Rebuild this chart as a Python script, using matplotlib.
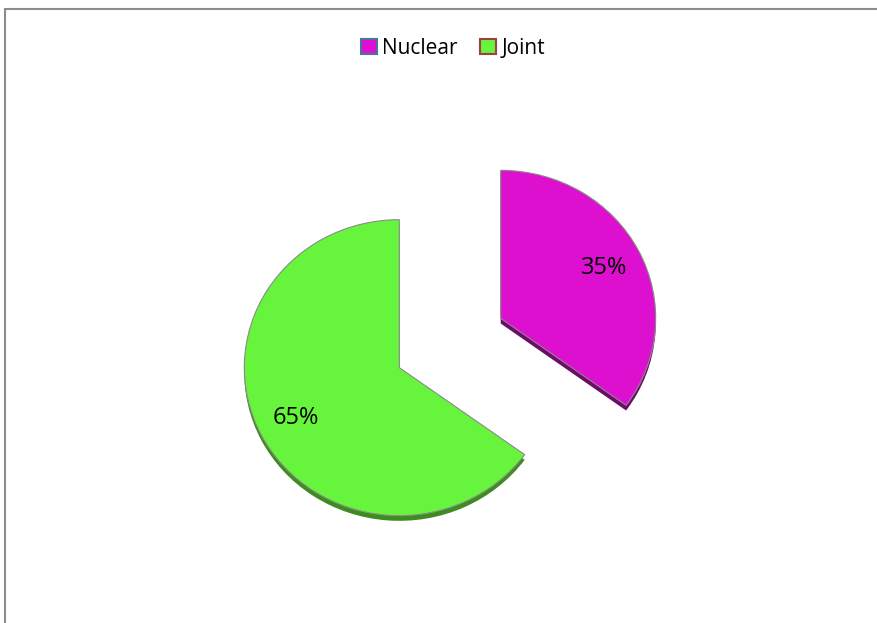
import matplotlib.pyplot as plt
from matplotlib.patches import Patch, Rectangle

labels = ["Nuclear", "Joint"]
shares = [35, 65]
face = ["#dd10cf", "#66f53c"]
side = ["#6e0a6a", "#3e8c1f"]
legend_edge = ["#4f6f9f", "#9f4040"]

plt.rcParams["font.family"] = ["Open Sans", "DejaVu Sans"]

fig = plt.figure(figsize=(8.77, 6.23), dpi=100)
ax = fig.add_axes([0, 0, 1, 1])

# pie centre at (450, 343) px from top-left; slightly flattened (tilted look)
rx, ry = 155, 148
cx, cy = 450, 623 - 343

expl = [0.367, 0.367]
# darker copy shifted down gives the 3d edge
ax.pie(shares, colors=side, startangle=90, counterclock=False, explode=expl,
       center=(0, -0.035), wedgeprops=dict(linewidth=0), frame=True)
ax.pie(shares, colors=face, startangle=90, counterclock=False, explode=expl,
       autopct="%d%%", pctdistance=0.75, frame=True,
       wedgeprops=dict(linewidth=0.8, edgecolor="#8a8a8a"),
       textprops=dict(fontsize=17, color="black"))
ax.set_xlim(-cx / rx, (877 - cx) / rx)
ax.set_ylim(-cy / ry, (623 - cy) / ry)
ax.set_aspect("auto")
ax.axis("off")

handles = [Patch(facecolor=f, edgecolor=e, linewidth=1.5, label=l)
           for f, e, l in zip(face, legend_edge, labels)]
fig.legend(handles=handles, loc="center", bbox_to_anchor=(453 / 877, 1 - 48 / 623),
           ncol=2, frameon=False, fontsize=15, handlelength=0.75, handleheight=0.75,
           handletextpad=0.25, columnspacing=1.1)

fig.patches.append(Rectangle((5 / 877, -0.1), 1.2, 1.1 - 9 / 623, transform=fig.transFigure,
                             fill=False, edgecolor="#8c8c8c", linewidth=1.5))

fig.savefig("out.png", dpi=100)
